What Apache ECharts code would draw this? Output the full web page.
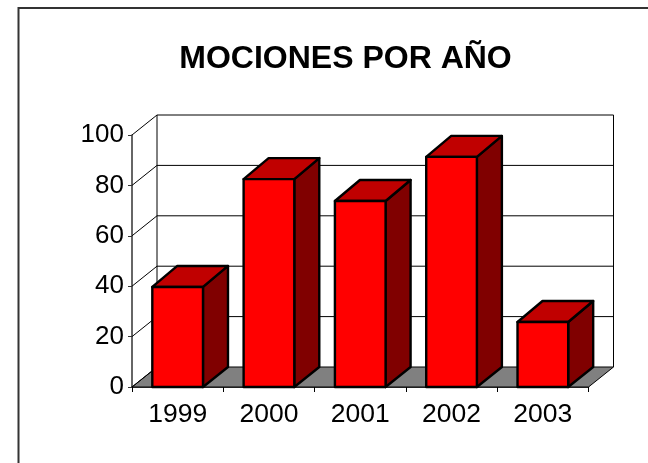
<!DOCTYPE html>
<html>
<head>
<meta charset="utf-8">
<style>
  html, body { margin: 0; padding: 0; background: #fff; }
  #chart { width: 648px; height: 463px; }
</style>
<script src="https://cdn.jsdelivr.net/npm/echarts@6/dist/echarts.min.js"></script>
</head>
<body>
<div id="chart"></div>
<script>
const years = ['1999', '2000', '2001', '2002', '2003']
const mociones = [39.7, 82.5, 73.8, 91.3, 25.8]
const yTicks = [0, 20, 40, 60, 80, 100]

// 3d look: how far the back wall sits from the front plane
const depthX = 25
const depthY = -20
const barTopDepthY = -21
const barRatio = 0.555

const chart = echarts.init(document.getElementById('chart'), null, { renderer: 'canvas' })

const lineStyle = { stroke: '#000', lineWidth: 1, fill: null }

function renderFloor(params, api) {
  const cs = params.coordSys
  const bottom = cs.y + cs.height
  return {
    type: 'group',
    children: [
      {
        type: 'polygon',
        shape: {
          points: [
            [cs.x, bottom],
            [cs.x + depthX, bottom + depthY],
            [cs.x + cs.width + depthX, bottom + depthY],
            [cs.x + cs.width, bottom],
          ],
        },
        style: { fill: '#808080', stroke: '#000', lineWidth: 1 },
      },
      {
        type: 'line',
        shape: { x1: cs.x + depthX, y1: cs.y + depthY, x2: cs.x + depthX, y2: bottom + depthY },
        style: lineStyle,
      },
      {
        type: 'line',
        shape: { x1: cs.x + cs.width + depthX, y1: cs.y + depthY, x2: cs.x + cs.width + depthX, y2: bottom + depthY },
        style: lineStyle,
      },
    ],
  }
}

function renderWallLine(params, api) {
  const cs = params.coordSys
  const y = api.coord([0, api.value(0)])[1]
  const children = [
    { type: 'line', shape: { x1: cs.x, y1: y, x2: cs.x + depthX, y2: y + depthY }, style: lineStyle },
  ]
  if (api.value(0) > 0) {
    children.push({
      type: 'line',
      shape: { x1: cs.x + depthX, y1: y + depthY, x2: cs.x + cs.width + depthX, y2: y + depthY },
      style: lineStyle,
    })
  }
  return { type: 'group', children }
}

function renderBar(params, api) {
  const top = api.coord([api.value(0), api.value(1)])
  const base = api.coord([api.value(0), 0])
  const w = api.size([1, 0])[0] * barRatio
  const l = top[0] - w / 2
  const r = top[0] + w / 2
  const edge = { stroke: '#000', lineWidth: 2.4, lineJoin: 'round' }
  return {
    type: 'group',
    children: [
      {
        type: 'polygon',
        shape: { points: [[r, top[1]], [r + depthX, top[1] + barTopDepthY], [r + depthX, base[1] + depthY], [r, base[1]]] },
        style: { fill: '#800000', ...edge },
      },
      {
        type: 'polygon',
        shape: { points: [[l, top[1]], [l + depthX, top[1] + barTopDepthY], [r + depthX, top[1] + barTopDepthY], [r, top[1]]] },
        style: { fill: '#c00000', ...edge },
      },
      {
        type: 'rect',
        shape: { x: l, y: top[1], width: w, height: base[1] - top[1] },
        style: { fill: '#ff0000', ...edge },
      },
    ],
  }
}

const option = {
  backgroundColor: '#fff',
  animation: false,
  textStyle: { fontFamily: 'Liberation Sans' },
  title: {
    text: 'MOCIONES POR AÑO',
    left: 340.5,
    top: 38,
    textAlign: 'center',
    textStyle: { color: '#000', fontSize: 32, fontWeight: 'bold', fontFamily: 'Liberation Sans' },
  },
  graphic: [
    {
      type: 'polyline',
      silent: true,
      shape: { points: [[18.5, 463], [18.5, 8], [648, 8]] },
      style: { stroke: '#333', lineWidth: 2, fill: null },
    },
  ],
  grid: { left: 132, right: 59.5, top: 135, bottom: 76 },
  xAxis: {
    type: 'category',
    data: years,
    axisLine: { show: true, lineStyle: { color: '#000', width: 1.5 } },
    axisTick: { show: true, length: 5, lineStyle: { color: '#000' } },
    axisLabel: { color: '#000', fontSize: 26.5, margin: 14, fontFamily: 'Liberation Sans' },
  },
  yAxis: {
    type: 'value',
    min: 0,
    max: 100,
    interval: 20,
    axisLine: { show: true, lineStyle: { color: '#333', width: 1.5 } },
    axisTick: { show: true, length: 4, lineStyle: { color: '#333' } },
    axisLabel: { color: '#000', fontSize: 26, margin: 8, padding: [3, 0, 0, 0], fontFamily: 'Liberation Sans' },
    splitLine: { show: false },
  },
  series: [
    {
      type: 'custom',
      coordinateSystem: 'cartesian2d',
      renderItem: renderFloor,
      data: [0],
      encode: { x: -1, y: -1 },
      silent: true,
      z: 1,
    },
    {
      type: 'custom',
      coordinateSystem: 'cartesian2d',
      renderItem: renderWallLine,
      data: yTicks.map(v => [v]),
      encode: { x: -1, y: 0 },
      silent: true,
      clip: false,
      z: 2,
    },
    {
      type: 'custom',
      coordinateSystem: 'cartesian2d',
      renderItem: renderBar,
      data: years.map((y, i) => [i, mociones[i]]),
      encode: { x: 0, y: 1 },
      clip: false,
      z: 3,
    },
  ],
}

chart.setOption(option)
</script>
</body>
</html>
